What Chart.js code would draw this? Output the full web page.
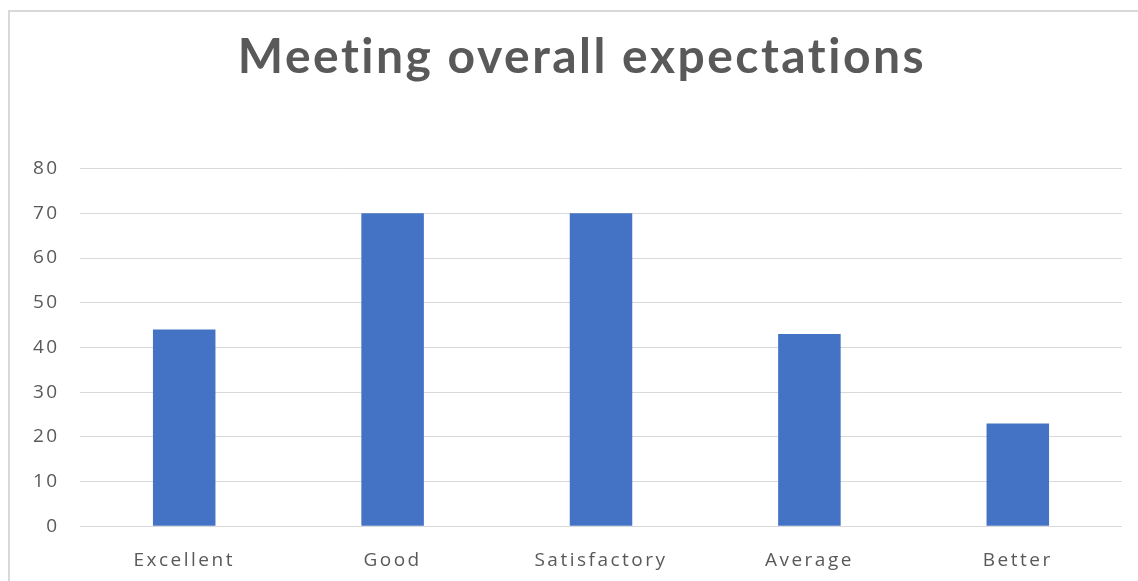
<!DOCTYPE html>
<html>
<head>
<meta charset="utf-8">
<script src="https://cdn.jsdelivr.net/npm/chart.js@4/dist/chart.umd.min.js"></script>
<style>
	body { margin: 0; background: #fff; overflow: hidden; }
	#frame {
		position: absolute; left: 8px; top: 10px; width: 1130px; height: 571px;
		border-left: 2px solid #d9d9d9; border-top: 2px solid #d9d9d9;
		box-sizing: border-box;
	}
	#chart-wrap { position: absolute; left: 0; top: 0; width: 1128px; height: 575px; }
</style>
</head>
<body>
<div id="frame"><div id="chart-wrap"><canvas id="expectations-chart"></canvas></div></div>
<script>
	// chart data
	var categories = ["Excellent", "Good", "Satisfactory", "Average", "Better"];
	var responses = [44, 70, 70, 43, 23];
	var yTicks = [0, 10, 20, 30, 40, 50, 60, 70, 80];

	// the original text is a bit spaced out
	var spacing = {
		id: "spacing",
		beforeDraw: function(chart){
			chart.ctx.letterSpacing = "2.5px";
		}
	};

	function drawChart(){
		new Chart("expectations-chart", {
			type: "bar",
			data: {
				labels: categories,
				datasets: [{
					data: responses,
					backgroundColor: "#4472c4",
					categoryPercentage: 1,
					barPercentage: 0.3
				}]
			},
			plugins: [spacing],
			options: {
				responsive: true,
				maintainAspectRatio: false,
				animation: false,
				layout: { padding: { left: 32, right: 16, top: 8, bottom: 0 } },
				plugins: {
					legend: { display: false },
					tooltip: { enabled: false },
					title: {
						display: true,
						text: "Meeting overall expectations",
						color: "#595959",
						font: { family: "Lato", size: 48, weight: "bold" },
						padding: { top: 9, bottom: 82 }
					}
				},
				scales: {
					x: {
						grid: { display: false },
						border: { display: false },
						ticks: {
							color: "#595959",
							font: { family: "Open Sans", size: 19 },
							padding: 15
						}
					},
					y: {
						min: yTicks[0],
						max: yTicks[yTicks.length - 1],
						afterBuildTicks: function(axis){
							axis.ticks = yTicks.map(function(v){ return { value: v }; });
						},
						afterFit: function(axis){
							axis.width = 38;
						},
						grid: { color: "#d9d9d9", lineWidth: 1, drawTicks: false },
						border: { display: false },
						ticks: {
							color: "#595959",
							font: { family: "Open Sans", size: 19 },
							mirror: true,
							crossAlign: "far",
							padding: -42
						}
					}
				}
			}
		});
	}

	drawChart();
</script>
</body>
</html>
